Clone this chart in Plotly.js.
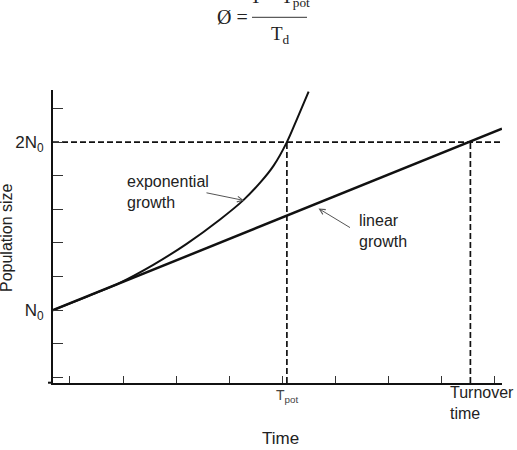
<!DOCTYPE html>
<html>
<head>
<meta charset="utf-8">
<script src="https://cdn.plot.ly/plotly-3.0.1.min.js"></script>
<style>
  html, body { margin: 0; padding: 0; background: #fff; }
  #chart { width: 517px; height: 450px; }
</style>
</head>
<body>
<div id="chart"></div>
<script>
// Population size (in units of N0) against time, exponential vs linear growth
const expTime = [0, 0.79, 1.26, 1.89, 2.52, 3.15, 3.59, 3.91, 4.16, 4.41, 4.60, 4.82];
const expSize = [1.00, 1.10, 1.163, 1.27, 1.395, 1.54, 1.655, 1.76, 1.86, 2.00, 2.137, 2.30];
const linTime = [0, 7.85, 8.466];
const linSize = [1.00, 2.00, 2.08];

const initialSize = 1;     // N0
const doubledSize = 2;     // 2N0
const tPot = 4.41;         // potential doubling time
const tTurnover = 7.87;    // turnover time

const sizeTicks = [0.6, 0.8, 1.0, 1.2, 1.4, 1.6, 1.8, 2.0, 2.2];
const sizeTickText = ['', '', 'N<sub>0</sub>', '', '', '', '', '2N<sub>0</sub>', ''];
const timeTicks = [0.32, 1.32, 2.32, 3.32, 4.32, 5.32, 6.32, 7.32, 8.32];

const timeRange = [0, 8.466];
const sizeRange = [0.567, 2.31];

// plot box in pixels, used to place the free-standing labels
const M = { l: 53, r: 15, t: 90, b: 67 };
const W = 517 - M.l - M.r, H = 450 - M.t - M.b;
const px = x => (x - M.l) / W;
const py = y => (450 - M.b - y) / H;

const ink = '#111';
const sans = 'Liberation Sans, Arial, sans-serif';
const serif = 'Liberation Serif, Times New Roman, serif';
const dashed = { color: ink, width: 1.7, dash: '6px,3px' };

const traces = [
  { x: [0, 8.43], y: [doubledSize, doubledSize], mode: 'lines', line: dashed },
  { x: [tPot, tPot], y: [sizeRange[0], doubledSize], mode: 'lines', line: dashed },
  { x: [tTurnover, tTurnover], y: [sizeRange[0], doubledSize], mode: 'lines', line: dashed },
  { x: linTime, y: linSize, mode: 'lines', line: { color: ink, width: 2.5 } },
  { x: expTime, y: expSize, mode: 'lines', line: { color: ink, width: 2, shape: 'spline', smoothing: 1 } }
];

const textAnn = (text, x, y, opts) => Object.assign({
  text, xref: 'paper', yref: 'paper', x: px(x), y: py(y),
  showarrow: false, font: { family: sans, size: 16, color: '#222' }
}, opts || {});

const arrowAnn = (tailX, tailY, tipX, tipY) => ({
  text: '', xref: 'paper', yref: 'paper', x: px(tipX), y: py(tipY),
  axref: 'pixel', ayref: 'pixel', ax: tailX - tipX, ay: tailY - tipY,
  showarrow: true, arrowhead: 5, arrowsize: 1.1, arrowwidth: 1, arrowcolor: '#555'
});

const annotations = [
  textAnn('exponential<br>growth', 125, 192, { xanchor: 'left', yanchor: 'middle', align: 'left' }),
  arrowAnn(205, 192.5, 244, 200.5),
  textAnn('linear<br>growth', 357, 231, { xanchor: 'left', yanchor: 'middle', align: 'left' }),
  arrowAnn(351.5, 228.5, 318.5, 208.5),
  textAnn('T<sub>pot</sub>', 287, 396, { xanchor: 'center', yanchor: 'middle', font: { family: sans, size: 14, color: '#444' } }),
  textAnn('Turnover<br>time', 448, 403, { xanchor: 'left', yanchor: 'middle', align: 'left' }),
  textAnn('Time', 280, 438, { xanchor: 'center', yanchor: 'middle', font: { family: sans, size: 17, color: '#222' } }),
  textAnn('Population size', 6, 238, { xanchor: 'center', yanchor: 'middle', textangle: -90 }),
  // doubling-potential fraction above the chart
  textAnn('Ø =', 232, 17, { xanchor: 'center', yanchor: 'middle', font: { family: serif, size: 20, color: '#222' } }),
  textAnn('T − T<sub>pot</sub>', 280, -2, { xanchor: 'center', yanchor: 'middle', font: { family: serif, size: 19, color: '#222' } }),
  textAnn('T<sub>d</sub>', 280, 35, { xanchor: 'center', yanchor: 'middle', font: { family: serif, size: 19, color: '#222' } })
];

const shapes = [
  { type: 'line', xref: 'paper', yref: 'paper', x0: px(252), x1: px(307), y0: py(17.3), y1: py(17.3),
    line: { color: '#333', width: 1 } },
  { type: 'line', xref: 'paper', yref: 'paper', x0: px(48), x1: px(53), y0: py(382.7), y1: py(382.7),
    line: { color: ink, width: 2 } }
];

const layout = {
  width: 517, height: 450,
  margin: M,
  paper_bgcolor: '#fff', plot_bgcolor: '#fff',
  showlegend: false,
  hovermode: false,
  xaxis: {
    range: timeRange, showgrid: false, zeroline: false,
    showline: true, linecolor: ink, linewidth: 2,
    tickmode: 'array', tickvals: timeTicks, ticks: 'inside', ticklen: 7, tickwidth: 1, tickcolor: '#333',
    showticklabels: false
  },
  yaxis: {
    range: sizeRange, showgrid: false, zeroline: false,
    showline: true, linecolor: ink, linewidth: 2,
    tickmode: 'array', tickvals: sizeTicks, ticktext: sizeTickText,
    ticks: 'inside', ticklen: 10, tickwidth: 1, tickcolor: '#333',
    ticklabelstandoff: 4,
    tickfont: { family: sans, size: 17, color: '#222' }
  },
  annotations, shapes
};

Plotly.newPlot('chart', traces, layout, { staticPlot: true, displayModeBar: false });
</script>
</body>
</html>
